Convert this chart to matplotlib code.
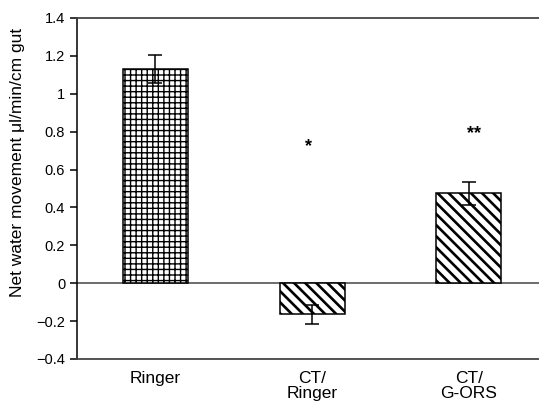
import matplotlib
matplotlib.use('Agg')
from matplotlib import pyplot as plt

plt.rcParams['font.family'] = ['Liberation Sans', 'DejaVu Sans']

groups = ['Ringer', 'CT/\nRinger', 'CT/\nG-ORS']
water = [1.13, -0.165, 0.475]
sem = [0.075, 0.05, 0.06]
hatches = ['+++', '\\\\\\', '\\\\\\']
hatch_lw = [1.0, 1.9, 1.9]
stars = ['', '*', '**']
star_y = [None, 0.72, 0.79]

fig = plt.figure(figsize=(5.39, 4.05), dpi=100)
ax = fig.add_axes([0.1429, 0.1136, 0.8571, 0.842])

x = list(range(len(groups)))
for i in x:
    with plt.rc_context({'hatch.linewidth': hatch_lw[i]}):
        bars = ax.bar(i, water[i], width=0.414, color='white', edgecolor='black',
                      linewidth=1.1, hatch=hatches[i], zorder=2)
    for b in bars:
        if hasattr(b, 'set_hatch_linewidth'):
            b.set_hatch_linewidth(hatch_lw[i])
    ax.errorbar(i, water[i], yerr=[[sem[i]], [sem[i]]], fmt='none', ecolor='black',
                elinewidth=1.1, capsize=5, capthick=1.1, zorder=3)
    if stars[i]:
        ax.text(i - 0.02 if i == 1 else i + 0.03, star_y[i], stars[i], ha='center', va='center',
                fontsize=13, fontweight='bold')

ax.axhline(0, color='#444444', linewidth=1.1, zorder=1)
ax.set_xlim(-0.497, 2.446)
ax.set_ylim(-0.4, 1.4)
ax.set_yticks([-0.4, -0.2, 0, 0.2, 0.4, 0.6, 0.8, 1, 1.2, 1.4])
ax.set_yticklabels(['\u22120.4', '\u22120.2', '0', '0.2', '0.4', '0.6', '0.8', '1', '1.2', '1.4'])
ax.set_xticks(x)
ax.set_xticklabels(groups, fontsize=12.5, linespacing=0.95)
ax.tick_params(axis='x', length=0, pad=9)
ax.tick_params(axis='y', length=5, width=1.1, labelsize=10.5)

ax.spines['right'].set_visible(False)
ax.spines['left'].set_linewidth(1.1)
for s in ['top', 'bottom']:
    ax.spines[s].set_color('#444444')
    ax.spines[s].set_linewidth(1.3)

ax.set_ylabel('Net water movement \u03bcl/min/cm gut', fontsize=12.5)
ax.yaxis.set_label_coords(-0.113, 0.575)

plt.savefig('out.png', dpi=100)
